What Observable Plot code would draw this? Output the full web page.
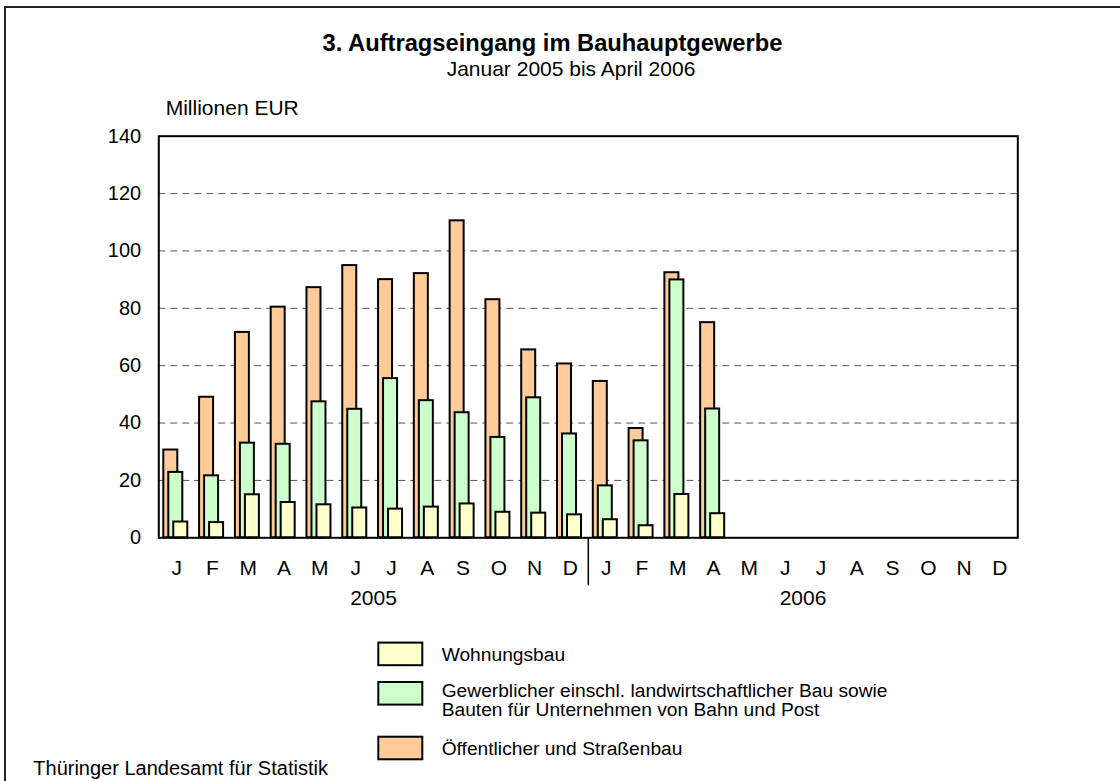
<!DOCTYPE html>
<html><head><meta charset="utf-8">
<script src="https://cdn.jsdelivr.net/npm/d3@7"></script>
<script src="https://cdn.jsdelivr.net/npm/@observablehq/plot@0.6"></script>
<style>
html,body{margin:0;padding:0;background:#fff;overflow:hidden;}
#wrap{position:relative;width:1120px;height:781px;overflow:hidden;background:#fff;font-family:"Liberation Sans",Arial,sans-serif;}
#chart{position:absolute;left:0;top:0;}
#overlay{position:absolute;left:0;top:0;}
</style></head>
<body><div id="wrap"><div id="chart"></div><svg id="overlay" width="1120" height="781"></svg></div>
<script>
// ---- data ----
const titleText = "3. Auftragseingang im Bauhauptgewerbe";
const subtitleText = "Januar 2005 bis April 2006";
const unitLabel = "Millionen EUR";
const sourceText = "Thüringer Landesamt für Statistik";
const monthLetters = ["J","F","M","A","M","J","J","A","S","O","N","D"];
const years = ["2005","2006"];
const yTicks = [0,20,40,60,80,100,120,140];
// Jan 2005 .. Apr 2006
const wohnungsbau = [5.5, 5.3, 15.0, 12.3, 11.5, 10.4, 10.0, 10.7, 11.8, 8.9, 8.6, 8.0, 6.3, 4.2, 15.1, 8.4];
const gewerblich  = [22.8, 21.6, 33.0, 32.6, 47.4, 44.8, 55.5, 47.8, 43.6, 35.0, 48.8, 36.2, 18.1, 33.8, 89.9, 44.9];
const oeffentlich = [30.6, 49.0, 71.6, 80.4, 87.2, 94.9, 90.0, 92.1, 110.5, 83.0, 65.5, 60.6, 54.5, 38.1, 92.4, 75.0];
const seriesNames = ["Wohnungsbau",
  "Gewerblicher einschl. landwirtschaftlicher Bau sowie\nBauten für Unternehmen von Bahn und Post",
  "Öffentlicher und Straßenbau"];
const seriesColors = ["#FFFFCC", "#CCFFCC", "#FFCC99"];

// ---- derived tables ----
const months = years.flatMap((yr, yi) => monthLetters.map((m, mi) => ({i: yi * monthLetters.length + mi, letter: m, year: yr})));
const toRows = arr => arr.map((v, i) => ({i, v})).filter(d => d.v != null);
const yearLabels = years.map((yr, yi) => ({year: yr, mid: yi * monthLetters.length + monthLetters.length / 2}));

// ---- plot ----
const W = 1120, H = 640;
const frameL = 158.3, frameR = 1017.3, frameT = 135.7, frameB = 537.3;
const bw = (frameR - frameL) / months.length;
const barStyle = {stroke: "#000", strokeWidth: 2};
const chart = Plot.plot({
  width: W, height: H,
  marginLeft: frameL, marginRight: W - frameR, marginTop: frameT, marginBottom: H - frameB,
  style: {fontFamily: "Liberation Sans, Arial, sans-serif", fontSize: "21px", color: "#000", background: "transparent", overflow: "visible"},
  x: {type: "linear", domain: [0, months.length], label: null},
  y: {domain: [0, 140], label: null},
  marks: [
    Plot.ruleY(yTicks.filter(v => v > 0 && v < 140), {stroke: "#555", strokeWidth: 1, strokeDasharray: "7,5"}),
    Plot.rectY(toRows(oeffentlich), {x1: "i", x2: d => d.i + 1, y: "v", fill: seriesColors[2], ...barStyle, insetLeft: 5, insetRight: bw - 19}),
    Plot.rectY(toRows(gewerblich), {x1: "i", x2: d => d.i + 1, y: "v", fill: seriesColors[1], ...barStyle, insetLeft: 10, insetRight: bw - 24}),
    Plot.rectY(toRows(wohnungsbau), {x1: "i", x2: d => d.i + 1, y: "v", fill: seriesColors[0], ...barStyle, insetLeft: 15, insetRight: bw - 29}),
    Plot.frame({stroke: "#000", strokeWidth: 2}),
    Plot.axisY({ticks: yTicks, tickSize: 0, tickPadding: 17.6, fontSize: 20, label: null, tickFormat: d => String(d)}),
    Plot.axisX({ticks: months.map(m => m.i + 0.5), tickFormat: v => months[Math.floor(v)].letter, tickSize: 0, tickPadding: 22, fontSize: 21, label: null}),
    Plot.text(yearLabels, {x: "mid", text: "year", frameAnchor: "bottom", dy: 66.7, fontSize: 21, fill: "#000"}),
    Plot.ruleX([monthLetters.length], {stroke: "#000", strokeWidth: 1.5, insetTop: frameB - frameT, insetBottom: -48})
  ]
});
document.getElementById("chart").append(chart);

// ---- outer border (left and top edges only visible), title, unit label, legend, source ----
const ov = d3.select("#overlay").style("font-family", "Liberation Sans, Arial, sans-serif");
ov.append("path").attr("d", "M5,781V7H1120").attr("fill", "none").attr("stroke", "#222").attr("stroke-width", 2);
ov.append("text").attr("x", 552.5).attr("y", 50.7).attr("text-anchor", "middle")
  .attr("font-size", 23.7).attr("font-weight", "bold").text(titleText);
ov.append("text").attr("x", 571).attr("y", 76).attr("text-anchor", "middle")
  .attr("font-size", 21).text(subtitleText);
ov.append("text").attr("x", 165.7).attr("y", 115).attr("font-size", 21).text(unitLabel);

const legendY = [653.9, 693.3, 748];
[0, 1, 2].forEach((k, j) => {
  ov.append("rect").attr("x", 378.3).attr("y", legendY[j] - 11.3).attr("width", 44).attr("height", 22.6)
    .attr("fill", seriesColors[k]).attr("stroke", "#000").attr("stroke-width", 2);
  const lines = seriesNames[k].split("\n");
  const t = ov.append("text").attr("font-size", 19.2);
  const baseY = lines.length === 1 ? legendY[j] + 7 : legendY[j] + 3.4;
  lines.forEach((ln, li) => {
    t.append("tspan").attr("x", 441.7).attr("y", baseY + li * 19.3).text(ln);
  });
});
ov.append("text").attr("x", 33.3).attr("y", 775).attr("font-size", 20).text(sourceText);
</script>
</body></html>
